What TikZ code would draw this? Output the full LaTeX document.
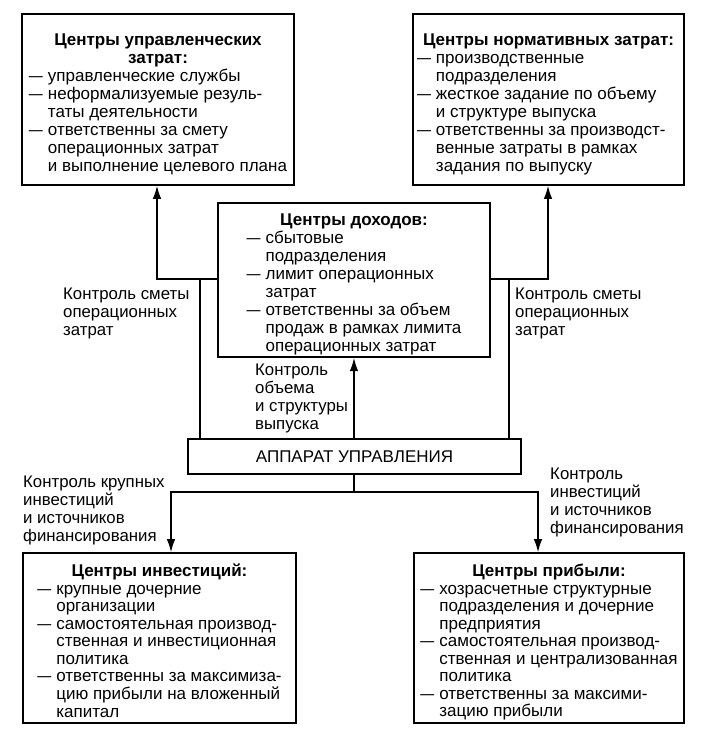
\documentclass[tikz,border=0pt]{standalone}
\usepackage{fontspec}
\usepackage{graphicx}
\setmainfont{Liberation Sans}
\usetikzlibrary{arrows.meta}
\newcommand{\dsh}{\scalebox{0.82}[1]{—}}
\newcommand{\topsp}{\rule{0pt}{23pt}}
\begin{document}
\begin{tikzpicture}[x=1pt,y=-1pt,
  box/.style={draw, line width=1.6pt, inner sep=0pt, font=\fontsize{17}{18}\selectfont},
  boxb/.style={box, font=\fontsize{17}{17.5}\selectfont},
  lbl/.style={inner sep=0pt, anchor=base west, font=\fontsize{16.8}{18.2}\selectfont},
  conn/.style={line width=1.4pt},
  arr/.style={conn, -{Latex[length=13pt,width=8.5pt]}}]
\useasboundingbox (0,0) rectangle (705,730);

% boxes
\node[box, minimum width=272, minimum height=171] (tl) at (158,99.5) {%
\begin{tabular}{@{}l@{\hspace{5pt}}l@{}}
\multicolumn{2}{c}{\topsp\bfseries Центры управленческих}\\
\multicolumn{2}{c}{\bfseries затрат:}\\
\dsh & управленческие службы\\
\dsh & неформализуемые резуль-\\
  & таты деятельности\\
\dsh & ответственны за смету\\
  & операционных затрат\\
  & и выполнение целевого плана
\end{tabular}};

\node[box, minimum width=271, minimum height=171] (tr) at (548.5,99.5) {%
\begin{tabular}{@{}l@{\hspace{5pt}}l@{}}
\multicolumn{2}{c}{\topsp\bfseries Центры нормативных затрат:}\\
\dsh & производственные\\
  & подразделения\\
\dsh & жесткое задание по объему\\
  & и структуре выпуска\\
\dsh & ответственны за производст-\\
  & венные затраты в рамках\\
  & задания по выпуску
\end{tabular}};

\node[box, minimum width=272, minimum height=154] (cb) at (354,280) {%
\begin{tabular}{@{}l@{\hspace{5pt}}l@{}}
\multicolumn{2}{c}{\topsp\bfseries Центры доходов:}\\
\dsh & сбытовые\\
  & подразделения\\
\dsh & лимит операционных\\
  & затрат\\
\dsh & ответственны за объем\\
  & продаж в рамках лимита\\
  & операционных затрат
\end{tabular}};

\node[box, minimum width=333, minimum height=35] (ap) at (354.5,456.5) {АППАРАТ УПРАВЛЕНИЯ};

\node[boxb, minimum width=273, minimum height=170] (bl) at (159.5,638) {%
\begin{tabular}{@{}l@{\hspace{5pt}}l@{}}
\multicolumn{2}{c}{\topsp\bfseries Центры инвестиций:}\\
\dsh & крупные дочерние\\
  & организации\\
\dsh & самостоятельная производ-\\
  & ственная и инвестиционная\\
  & политика\\
\dsh & ответственны за максимиза-\\
  & цию прибыли на вложенный\\
  & капитал
\end{tabular}};

\node[boxb, minimum width=270, minimum height=170] (br) at (549,638) {%
\begin{tabular}{@{}l@{\hspace{5pt}}l@{}}
\multicolumn{2}{c}{\topsp\bfseries Центры прибыли:}\\
\dsh & хозрасчетные структурные\\
  & подразделения и дочерние\\
  & предприятия\\
\dsh & самостоятельная производ-\\
  & ственная и централизованная\\
  & политика\\
\dsh & ответственны за максими-\\
  & зацию прибыли
\end{tabular}};

% labels
\node[lbl] (lsl) at (63,299) {\begin{tabular}[t]{@{}l@{}}Контроль сметы\\операционных\\затрат\end{tabular}};
\node[lbl] (lsr) at (515,299) {\begin{tabular}[t]{@{}l@{}}Контроль сметы\\операционных\\затрат\end{tabular}};
\node[lbl] (lvc) at (255,375) {\begin{tabular}[t]{@{}l@{}}Контроль\\объема\\и структуры\\выпуска\end{tabular}};
\node[lbl] (lil) at (23,487) {\begin{tabular}[t]{@{}l@{}}Контроль крупных\\инвестиций\\и источников\\финансирования\end{tabular}};
\node[lbl] (lir) at (550,479) {\begin{tabular}[t]{@{}l@{}}Контроль\\инвестиций\\и источников\\финансирования\end{tabular}};

% junctions
\coordinate (lv) at (200,279);
\coordinate (jl) at (157,279);
\coordinate (rv) at (509,279);
\coordinate (jr) at (548,279);
\coordinate (jb) at (354,492);
\coordinate (bL) at (171,492);
\coordinate (bR) at (538,492);

% connectors
\draw[conn] (ap.north -| lv) -- (lv);
\draw[arr] (cb.west |- jl) -- (jl) -- (jl |- tl.south);
\draw[conn] (ap.north -| rv) -- (rv);
\draw[arr] (cb.east |- jr) -- (jr) -- (jr |- tr.south);
\draw[arr] (ap.north -| cb.south) -- (cb.south);
\draw[conn] (ap.south -| jb) -- (jb);
\draw[arr] (jb) -- (bL) -- (bL |- bl.north);
\draw[arr] (jb) -- (bR) -- (bR |- br.north);
\end{tikzpicture}
\end{document}
